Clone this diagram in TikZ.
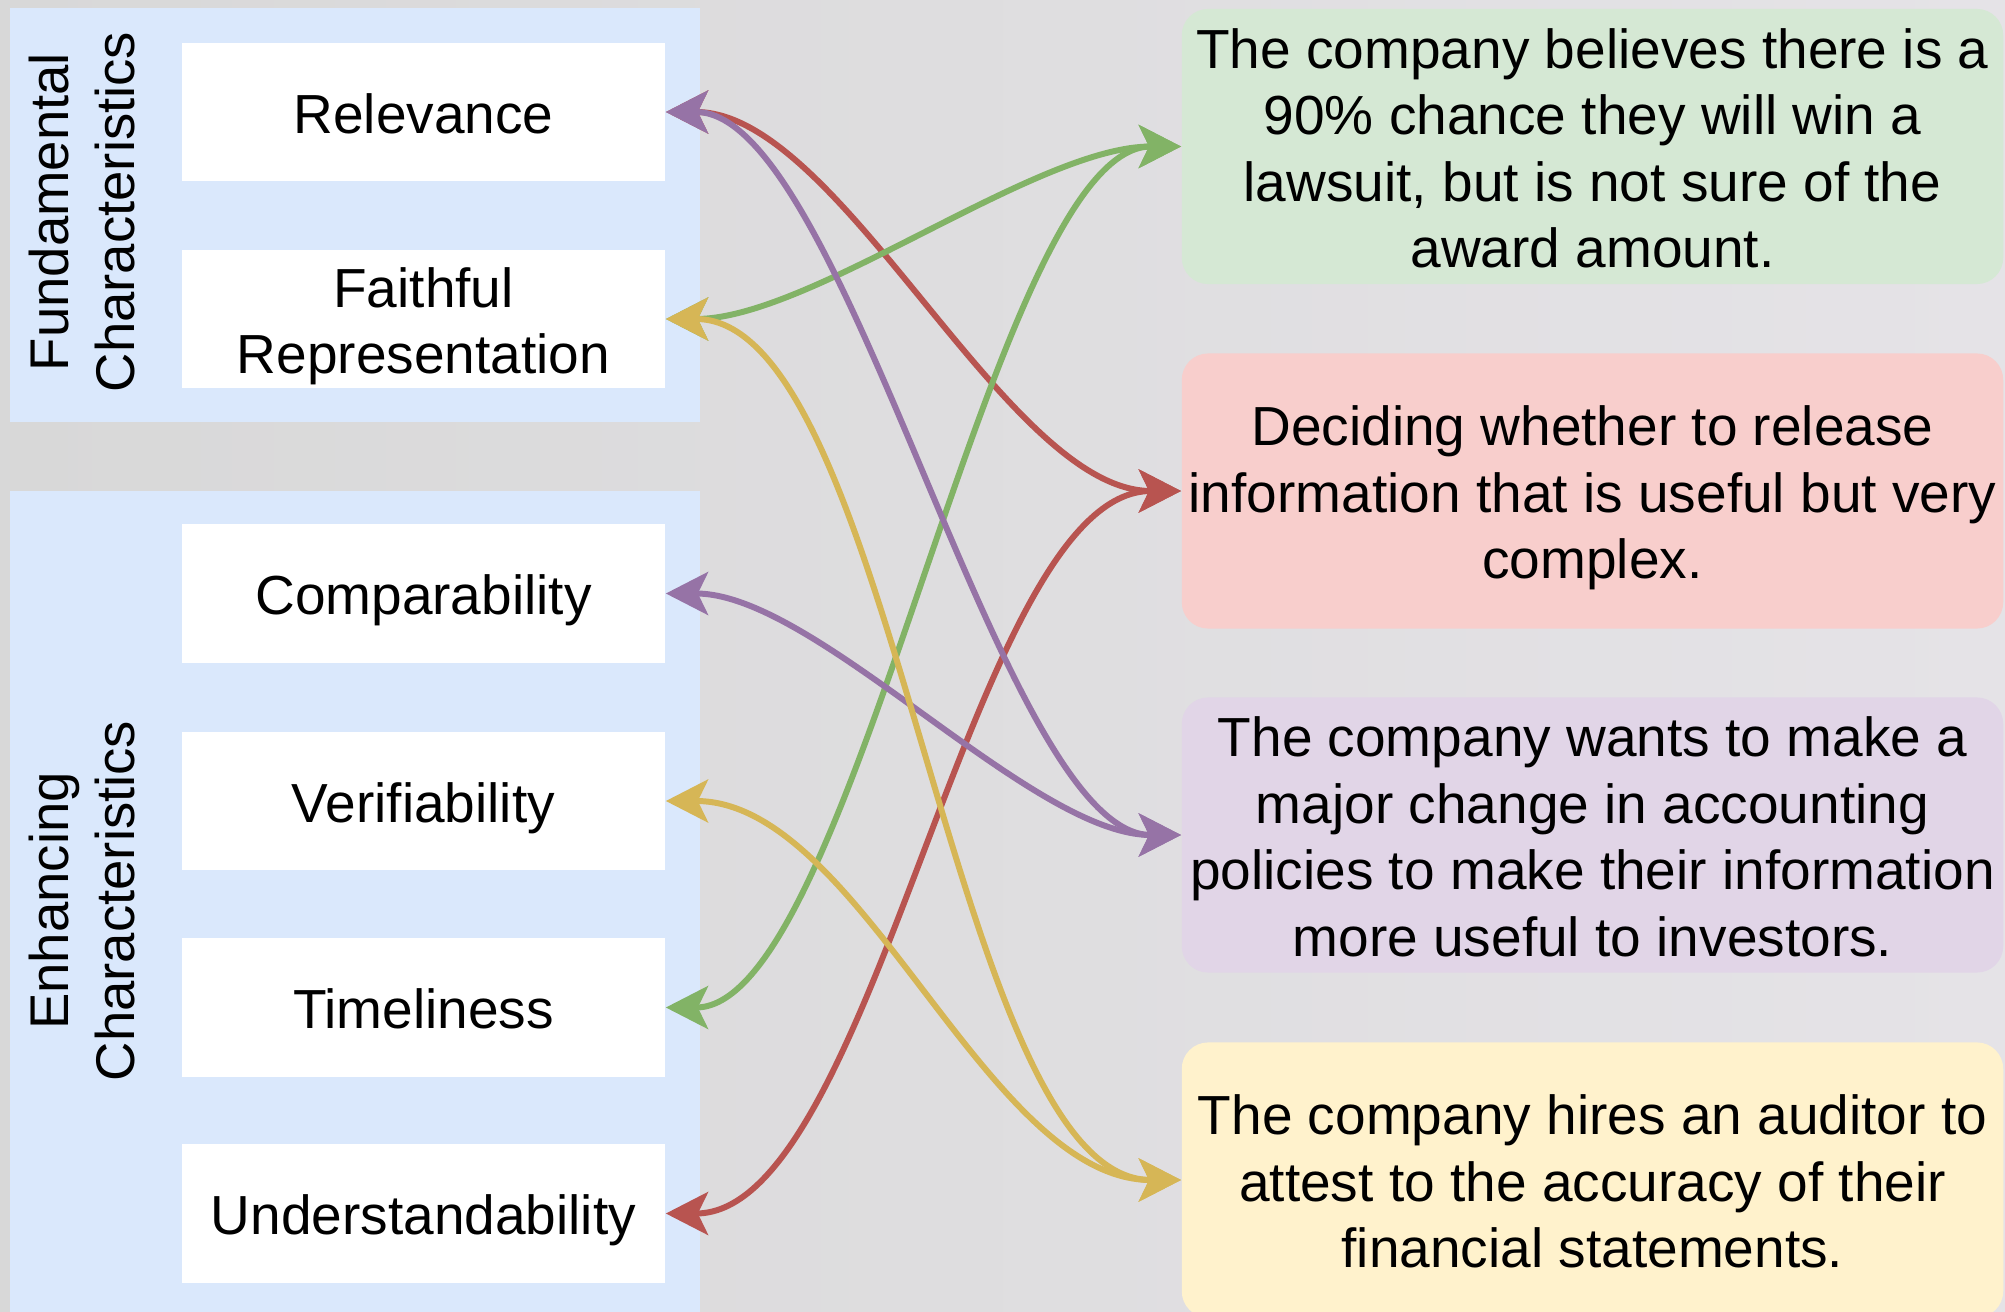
\documentclass[tikz,border=0pt]{standalone}
\usepackage{fontspec}
\setmainfont{Liberation Sans}
\usetikzlibrary{arrows.meta}
\definecolor{panelblue}{HTML}{DAE8FC}
\definecolor{boxgreen}{HTML}{D5E8D4}
\definecolor{boxred}{HTML}{F8CECC}
\definecolor{boxpurple}{HTML}{E1D5E7}
\definecolor{boxyellow}{HTML}{FFF2CC}
\definecolor{linegreen}{HTML}{82B366}
\definecolor{linered}{HTML}{B85450}
\definecolor{linepurple}{HTML}{9673A6}
\definecolor{lineyellow}{HTML}{D6B656}
\definecolor{bgleft}{HTML}{D8D8D8}
\definecolor{bgright}{HTML}{E5E3E7}
\tikzset{
  trait/.style={fill=white, minimum width=4.83cm, minimum height=1.38cm, inner sep=0pt, align=center, font=\fontsize{15.65}{18.9}\selectfont, text height=15.55pt, text depth=3.35pt},
  case/.style={rounded corners=7.5pt, minimum width=8.21cm, minimum height=2.75cm, inner sep=0pt, align=center, font=\fontsize{15.65}{18.9}\selectfont, text depth=3.35pt},
  group/.style={rotate=90, inner sep=0pt, align=center, font=\fontsize{15.5}{19}\selectfont},
  link/.style={<->, line width=1.7pt},
}
\begin{document}
\begin{tikzpicture}[x=0.01cm, y=-0.01cm, >={Stealth[length=12pt,width=12.2pt,inset=2.9pt]}]
\useasboundingbox (0,0) rectangle (2005,1312);
\clip (0,0) rectangle (2005,1312);
\shade[left color=bgleft, right color=bgright] (0,0) rectangle (2005,1312);

% left panels
\fill[panelblue] (10,8) rectangle (700,422);
\fill[panelblue] (10,491) rectangle (700,1330);
\node[group] (fund) at (82,212) {Fundamental\\Characteristics};
\node[group] (enh) at (82,901) {Enhancing\\Characteristics};

\node[trait] (rel) at (423.5,112) {Relevance};
\node[trait, text height=34.45pt] (fai) at (423.5,319) {Faithful\\Representation};
\node[trait] (com) at (423.5,593.5) {Comparability};
\node[trait] (ver) at (423.5,801) {Verifiability};
\node[trait] (tim) at (423.5,1007.5) {Timeliness};
\node[trait] (und) at (423.5,1213.5) {Understandability};

% right cases
\node[case, fill=boxgreen, text height=72.25pt] (law) at (1592.5,146.5) {The company believes there is a\\90\% chance they will win a\\lawsuit, but is not sure of the\\award amount.};
\node[case, fill=boxred, text height=53.35pt] (dec) at (1592.5,491) {Deciding whether to release\\information that is useful but very\\complex.};
\node[case, fill=boxpurple, text height=72.25pt] (pol) at (1592.5,835) {The company wants to make a\\major change in accounting\\policies to make their information\\more useful to investors.};
\node[case, fill=boxyellow, text height=53.35pt] (aud) at (1592.5,1180) {The company hires an auditor to\\attest to the accuracy of their\\financial statements.};

% links
\draw[link, linered] (rel.east) .. controls +(175,0) and +(-175,0) .. (dec.west);
\draw[link, linered] (und.east) .. controls +(210,0) and +(-210,0) .. (dec.west);
\draw[link, linegreen] (fai.east) .. controls +(145,0) and +(-145,0) .. (law.west);
\draw[link, linegreen] (tim.east) .. controls +(190,0) and +(-190,0) .. (law.west);
\draw[link, linepurple] (rel.east) .. controls +(180,0) and +(-180,0) .. (pol.west);
\draw[link, linepurple] (com.east) .. controls +(150,0) and +(-150,0) .. (pol.west);
\draw[link, lineyellow] (fai.east) .. controls +(230,0) and +(-230,0) .. (aud.west);
\draw[link, lineyellow] (ver.east) .. controls +(195,0) and +(-195,0) .. (aud.west);
\end{tikzpicture}
\end{document}
